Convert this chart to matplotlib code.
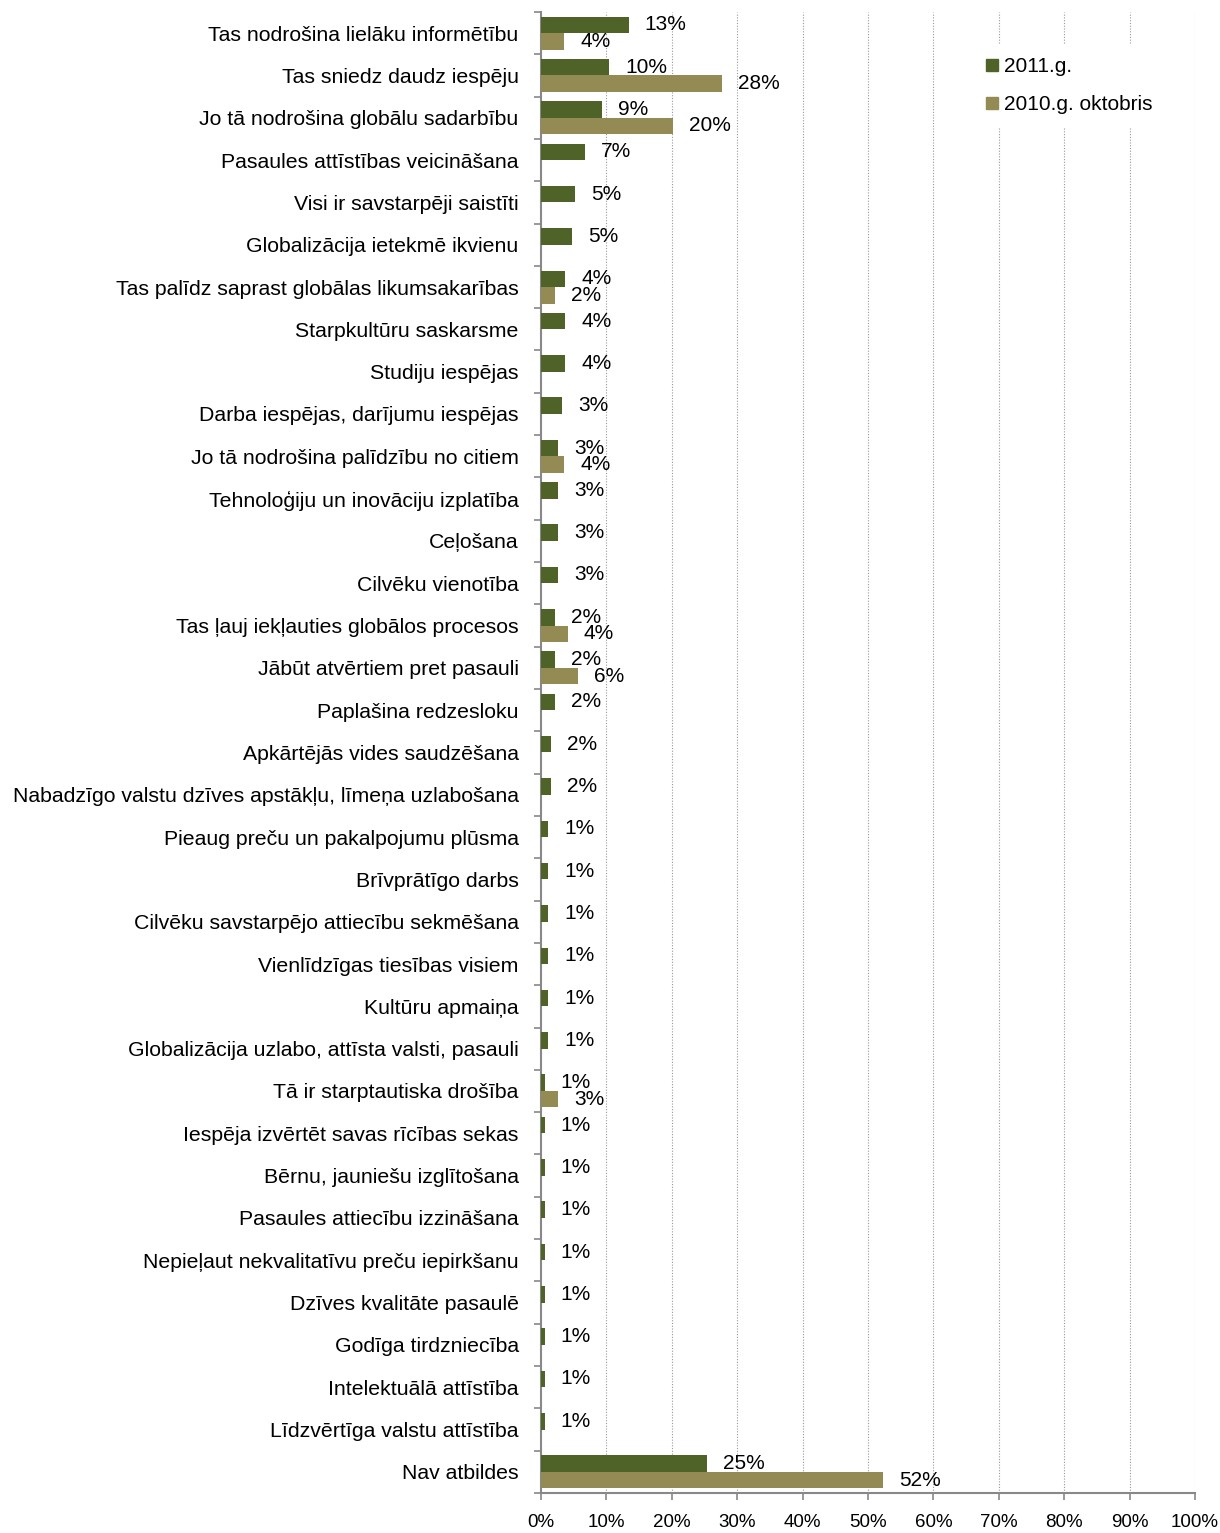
import matplotlib.pyplot as plt
from matplotlib.lines import Line2D
from matplotlib.ticker import FixedLocator, PercentFormatter
import numpy as np

plt.rcParams['font.family'] = ['Liberation Sans', 'DejaVu Sans']

categories = [
    "Tas nodrošina lielāku informētību",
    "Tas sniedz daudz iespēju",
    "Jo tā nodrošina globālu sadarbību",
    "Pasaules attīstības veicināšana",
    "Visi ir savstarpēji saistīti",
    "Globalizācija ietekmē ikvienu",
    "Tas palīdz saprast globālas likumsakarības",
    "Starpkultūru saskarsme",
    "Studiju iespējas",
    "Darba iespējas, darījumu iespējas",
    "Jo tā nodrošina palīdzību no citiem",
    "Tehnoloģiju un inovāciju izplatība",
    "Ceļošana",
    "Cilvēku vienotība",
    "Tas ļauj iekļauties globālos procesos",
    "Jābūt atvērtiem pret pasauli",
    "Paplašina redzesloku",
    "Apkārtējās vides saudzēšana",
    "Nabadzīgo valstu dzīves apstākļu, līmeņa uzlabošana",
    "Pieaug preču un pakalpojumu plūsma",
    "Brīvprātīgo darbs",
    "Cilvēku savstarpējo attiecību sekmēšana",
    "Vienlīdzīgas tiesības visiem",
    "Kultūru apmaiņa",
    "Globalizācija uzlabo, attīsta valsti, pasauli",
    "Tā ir starptautiska drošība",
    "Iespēja izvērtēt savas rīcības sekas",
    "Bērnu, jauniešu izglītošana",
    "Pasaules attiecību izzināšana",
    "Nepieļaut nekvalitatīvu preču iepirkšanu",
    "Dzīves kvalitāte pasaulē",
    "Godīga tirdzniecība",
    "Intelektuālā attīstība",
    "Līdzvērtīga valstu attīstība",
    "Nav atbildes",
]

# 2011.g. values (%)
vals_2011 = [13.4, 10.4, 9.4, 6.7, 5.2, 4.7, 3.7, 3.7, 3.7, 3.2,
             2.6, 2.6, 2.6, 2.6, 2.1, 2.1, 2.1, 1.6, 1.6, 1.1,
             1.1, 1.1, 1.1, 1.1, 1.1, 0.6, 0.6, 0.6, 0.6, 0.6,
             0.6, 0.6, 0.6, 0.6, 25.4]
# 2010.g. oktobris values (%), None where no bar
vals_2010 = [3.6, 27.7, 20.2, None, None, None, 2.1, None, None, None,
             3.6, None, None, None, 4.1, 5.6, None, None, None, None,
             None, None, None, None, None, 2.6, None, None, None, None,
             None, None, None, None, 52.3]

c2011 = '#4F6228'
c2010 = '#948A54'

fig = plt.figure(figsize=(12.2, 15.33), dpi=100)
ax = fig.add_axes([0.4434, 0.0261, 0.5361, 0.9661])

y = np.arange(len(categories))
h = 0.39
off = 0.195

ax.barh(y - off, vals_2011, height=h, color=c2011, zorder=3)
y10 = [yi + off for yi, v in zip(y, vals_2010) if v is not None]
v10 = [v for v in vals_2010 if v is not None]
ax.barh(y10, v10, height=h, color=c2010, zorder=3)

for yi, v in zip(y, vals_2011):
    ax.annotate(f"{v:.0f}%", (v, yi - off), xytext=(16, 0), textcoords='offset pixels',
                va='center', ha='left', fontsize=15, zorder=4)
for yi, v in zip(y10, v10):
    ax.annotate(f"{v:.0f}%", (v, yi), xytext=(16, 0), textcoords='offset pixels',
                va='center', ha='left', fontsize=15, zorder=4)

ax.set_xlim(0, 100)
ax.set_ylim(len(categories) - 0.5, -0.5)
ax.set_xticks(np.arange(0, 101, 10))
ax.xaxis.set_major_formatter(PercentFormatter(decimals=0))
ax.set_yticks(y)
ax.set_yticklabels(categories)
ax.yaxis.set_minor_locator(FixedLocator(np.arange(-0.5, len(categories), 1)))

ax.tick_params(axis='y', which='major', length=0, pad=16, labelsize=15.3)
ax.tick_params(axis='y', which='minor', length=5, width=1.2, color='#888888', direction='out')
ax.tick_params(axis='x', length=5, width=1.2, color='#888888', pad=10, labelsize=13.5)

for s in ['top', 'right']:
    ax.spines[s].set_visible(False)
for s in ['left', 'bottom']:
    ax.spines[s].set_color('#888888')
    ax.spines[s].set_linewidth(1.5)

for xv in range(10, 101, 10):
    ax.axvline(xv, color='#999999', lw=0.8, ls=(0, (1, 1.5)), zorder=1)

handles = [Line2D([], [], marker='s', ls='none', color=c2011, markersize=9),
           Line2D([], [], marker='s', ls='none', color=c2010, markersize=9)]
leg = ax.legend(handles, ['2011.g.', '2010.g. oktobris'], loc='upper left',
                bbox_to_anchor=(0.645, 0.985), fontsize=15, frameon=True,
                handlelength=0.6, handletextpad=0.3, labelspacing=0.9,
                borderpad=0.6)
leg.get_frame().set_edgecolor('white')
leg.get_frame().set_facecolor('white')
leg.get_frame().set_alpha(1)
leg.set_zorder(5)

fig.savefig('out.png', dpi=100)
